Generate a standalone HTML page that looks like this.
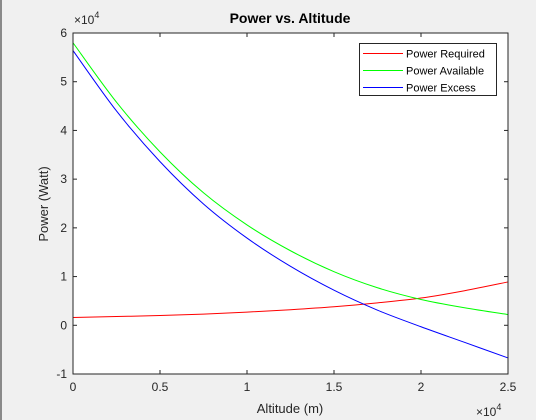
<!DOCTYPE html>
<html><head><meta charset="utf-8"><style>
body{margin:0;background:#f0f0f0;}
svg{display:block;font-family:"Liberation Sans",Arial,sans-serif;}
</style></head><body>
<svg id="chart" width="536" height="420">
<rect x="0" y="0" width="536" height="420" fill="#f0f0f0"/>
<rect x="0" y="0" width="2" height="420" fill="#8a8a8a"/>
<rect x="73" y="33" width="435" height="341" fill="#fff"/>
<g id="series"></g>
<g id="axes"></g>
<rect x="73" y="33" width="435" height="341" fill="none" stroke="#262626" stroke-width="1"/>
<text x="290" y="23" text-anchor="middle" font-size="14" font-weight="bold" fill="#000">Power vs. Altitude</text>
<text x="74" y="24" font-size="12" fill="#262626">×10<tspan dy="-6" font-size="9">4</tspan></text>
<text x="476" y="416" font-size="12" fill="#262626">×10<tspan dy="-6" font-size="9">4</tspan></text>
<text x="290" y="413" text-anchor="middle" font-size="13" fill="#262626">Altitude (m)</text>
<text transform="translate(48,204) rotate(-90)" text-anchor="middle" font-size="13" fill="#262626">Power (Watt)</text>
<g>
<rect x="359.5" y="43.5" width="137" height="52" fill="#fff" stroke="#262626" stroke-width="1"/>
<rect x="363" y="53" width="40" height="1" fill="#ff0000"/>
<text x="406" y="57.5" font-size="11" fill="#000">Power Required</text>
<rect x="363" y="70" width="40" height="1" fill="#00ff00"/>
<text x="406" y="74.5" font-size="11" fill="#000">Power Available</text>
<rect x="363" y="87" width="40" height="1" fill="#0000ff"/>
<text x="406" y="91.5" font-size="11" fill="#000">Power Excess</text>
</g>
</svg>
<script>
const altitudes = [0, 0.25, 0.5, 0.75, 1.0, 1.25, 1.5, 1.75, 2.0, 2.25, 2.5];
const powerRequired = [0.16, 0.18, 0.20, 0.23, 0.27, 0.32, 0.38, 0.46, 0.56, 0.71, 0.89];
const powerAvailable = [5.80, 4.58, 3.56, 2.72, 2.06, 1.53, 1.10, 0.77, 0.53, 0.36, 0.22];
const powerExcess = [5.64, 4.40, 3.36, 2.49, 1.79, 1.21, 0.72, 0.31, -0.03, -0.35, -0.67];
const xTicks = [0, 0.5, 1, 1.5, 2, 2.5];
const xTickLabels = ["0", "0.5", "1", "1.5", "2", "2.5"];
const yTicks = [-1, 0, 1, 2, 3, 4, 5, 6];
const yTickLabels = ["-1", "0", "1", "2", "3", "4", "5", "6"];

const L = 73, R = 508, T = 33, B = 374;
const xMin = 0, xMax = 2.5, yMin = -1, yMax = 6;
function xs(v){ return L + (v - xMin) / (xMax - xMin) * (R - L); }
function ys(v){ return B - (v - yMin) / (yMax - yMin) * (B - T); }
const NS = "http://www.w3.org/2000/svg";
const axes = document.getElementById('axes');
const series = document.getElementById('series');

function smoothPath(xv, yv){
  const p = xv.map((x, i) => [xs(x), ys(yv[i])]);
  let d = "M" + p[0][0] + "," + p[0][1];
  for (let i = 0; i < p.length - 1; i++){
    const p0 = p[Math.max(0, i-1)], p1 = p[i], p2 = p[i+1], p3 = p[Math.min(p.length-1, i+2)];
    const c1x = p1[0] + (p2[0]-p0[0])/6, c1y = p1[1] + (p2[1]-p0[1])/6;
    const c2x = p2[0] - (p3[0]-p1[0])/6, c2y = p2[1] - (p3[1]-p1[1])/6;
    d += " C" + c1x + "," + c1y + " " + c2x + "," + c2y + " " + p2[0] + "," + p2[1];
  }
  return d;
}

xTicks.forEach((t, i) => {
  const x = xs(t);
  const l1 = document.createElementNS(NS, 'line');
  l1.setAttribute('x1', x); l1.setAttribute('x2', x); l1.setAttribute('y1', B); l1.setAttribute('y2', B - 4);
  l1.setAttribute('stroke', '#262626');
  
  
  axes.appendChild(l1);
  const l2 = document.createElementNS(NS, 'line');
  l2.setAttribute('x1', x); l2.setAttribute('x2', x); l2.setAttribute('y1', T); l2.setAttribute('y2', T + 4);
  l2.setAttribute('stroke', '#262626');
  
  
  axes.appendChild(l2);
  const tx = document.createElementNS(NS, 'text');
  tx.setAttribute('x', x); tx.setAttribute('y', B + 17);
  tx.setAttribute('text-anchor', 'middle'); tx.setAttribute('font-size', '12'); tx.setAttribute('fill', '#262626');
  tx.textContent = xTickLabels[i];
  
  
  axes.appendChild(tx);
});
yTicks.forEach((t, i) => {
  const y = ys(t);
  const l1 = document.createElementNS(NS, 'line');
  l1.setAttribute('x1', L); l1.setAttribute('x2', L + 4); l1.setAttribute('y1', y); l1.setAttribute('y2', y);
  l1.setAttribute('stroke', '#262626');
  
  
  axes.appendChild(l1);
  const l2 = document.createElementNS(NS, 'line');
  l2.setAttribute('x1', R); l2.setAttribute('x2', R - 4); l2.setAttribute('y1', y); l2.setAttribute('y2', y);
  l2.setAttribute('stroke', '#262626');
  
  
  axes.appendChild(l2);
  const tx = document.createElementNS(NS, 'text');
  tx.setAttribute('x', L - 6); tx.setAttribute('y', y + 4);
  tx.setAttribute('text-anchor', 'end'); tx.setAttribute('font-size', '12'); tx.setAttribute('fill', '#262626');
  tx.textContent = yTickLabels[i];
  
  
  axes.appendChild(tx);
});

function addSeries(vals, color, name){
  const p = document.createElementNS(NS, 'path');
  p.setAttribute('d', smoothPath(altitudes, vals));
  p.setAttribute('fill', 'none'); p.setAttribute('stroke', color); p.setAttribute('stroke-width', '1');
  
  
  series.appendChild(p);
}
addSeries(powerRequired, '#ff0000', 'power-required-line');
addSeries(powerAvailable, '#00ff00', 'power-available-line');
addSeries(powerExcess, '#0000ff', 'power-excess-line');
</script>
</body></html>
